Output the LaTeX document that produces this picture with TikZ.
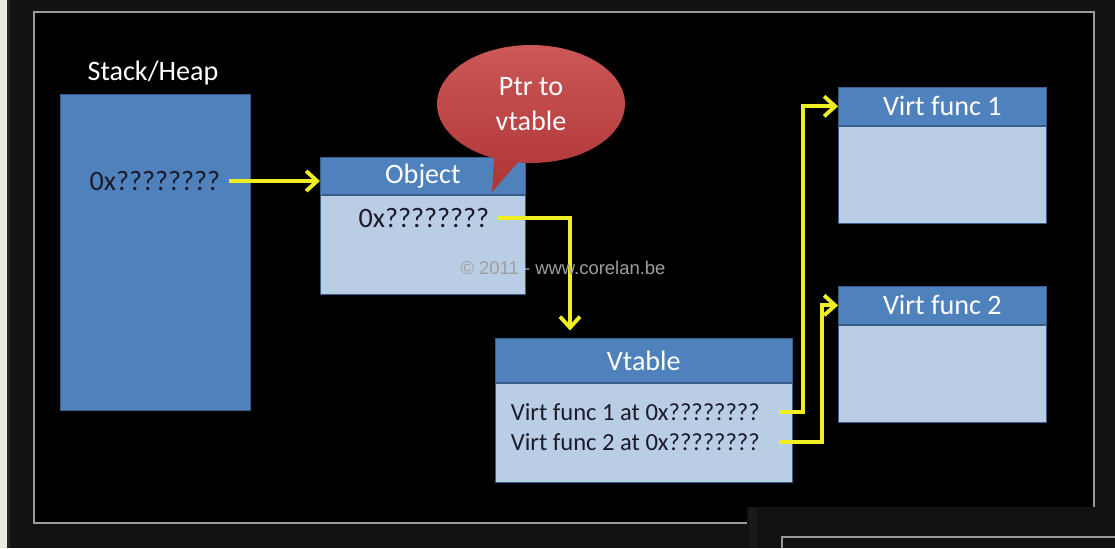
\documentclass[tikz,border=0pt]{standalone}
\usepackage{fontspec}
\setmainfont{Carlito}
\newfontfamily\markfont{Liberation Sans}
\usetikzlibrary{positioning,shapes.callouts,arrows.meta}
\definecolor{hdblue}{HTML}{4F81BD}
\definecolor{bdblue}{HTML}{B9CDE5}
\definecolor{lnblue}{HTML}{385D8A}
\definecolor{ptryellow}{HTML}{EEEE22}
\definecolor{txtdark}{HTML}{1B1B2B}
\definecolor{framegray}{HTML}{9A9A9A}
\definecolor{bggray}{HTML}{121212}
\definecolor{cream}{HTML}{E9ECDC}
\definecolor{notered}{HTML}{C23A3A}

\begin{document}
\begin{tikzpicture}[x=0.02cm,y=-0.02cm]
    \tikzstyle{head}=[rectangle,draw=lnblue,fill=hdblue,anchor=north west,inner sep=0pt,text=white,font=\fontsize{16}{19}\selectfont]
    \tikzstyle{body}=[rectangle,draw=lnblue,fill=bdblue,inner sep=0pt]
    \tikzstyle{addr}=[text=txtdark,inner sep=2pt,font=\fontsize{16}{19}\selectfont]
    \tikzstyle{entry}=[text=txtdark,anchor=west,inner sep=2pt,font=\fontsize{14}{17}\selectfont]
    \tikzstyle{link}=[draw=ptryellow,line width=2.2pt,-{Straight Barb[length=2.2mm,width=4mm]}]
    \useasboundingbox (0,0) rectangle (1115,548);

    % screen background
    \fill[bggray] (0,0) rectangle (1115,548);
    \fill[cream] (0,0) rectangle (7,548);
    \fill[black!85] (7,0) rectangle (10,548);
    \draw[framegray,fill=black,line width=0.8pt] (34,12) rectangle (1094,523);
    \fill[bggray] (747,507) rectangle (1115,548);
    \fill[black!90] (749,507) rectangle (757,548);
    \draw[framegray,line width=0.8pt] (782,548) -- (782,537) -- (1115,537);

    \node[rectangle,draw=lnblue,fill=hdblue,anchor=north west,minimum width=3.8cm,minimum height=6.32cm] (stack) at (60,94) {};
    \node[text=white,font=\fontsize{16}{19}\selectfont] (stack-lbl) at (153,73) {Stack/Heap};
    \node[addr] (sptr) at (155,181) {0x????????};

    \node[head,minimum width=4.1cm,minimum height=0.74cm] (obj-head) at (320,157) {Object};
    \node[body,below=0pt of obj-head,minimum width=4.1cm,minimum height=1.98cm] (obj-body) {};
    \node[addr] (optr) at (424,218) {0x????????};

    \node[ellipse callout,top color=notered!85!white,bottom color=notered!90!black,minimum width=3.76cm,minimum height=2.36cm,
          callout absolute pointer={(492,192)},align=center,text=white,font=\fontsize{16}{20}\selectfont] (note) at (531,104) {Ptr to\\vtable};

    \node[head,minimum width=5.94cm,minimum height=0.88cm] (vt-head) at (495,338) {Vtable};
    \node[body,below=0pt of vt-head,minimum width=5.94cm,minimum height=1.98cm] (vt-body) {};
    \foreach \n/\y in {1/412, 2/442}
        \node[entry] (L-\n) at (507,\y) {Virt func \n{} at 0x????????};

    \foreach \n/\y in {1/87, 2/286} {
        \node[head,minimum width=4.16cm,minimum height=0.76cm] (F\n-head) at (838,\y) {Virt func \n};
        \node[body,below=0pt of F\n-head,minimum width=4.16cm,minimum height=1.94cm] (F\n-body) {};
    }

    \draw[link,shorten <=0.1cm] (sptr.east) -- (sptr.east -| obj-head.west);
    \coordinate (drop) at (570,0);
    \draw[link,shorten <=0.1cm,shorten >=0.15cm] (optr.east) -| (drop |- vt-head.north);
    \foreach \n/\x in {1/803, 2/822} {
        \coordinate (R-\n) at (\x,0);
        \draw[link,shorten <=0.3cm] (L-\n.east) -| (R-\n |- F\n-head.west) -- (F\n-head.west);
    }

    \node[text=gray!75,font=\markfont\fontsize{10.5}{12}\selectfont] (mark) at (563,268) {© 2011 - www.corelan.be};
\end{tikzpicture}
\end{document}
